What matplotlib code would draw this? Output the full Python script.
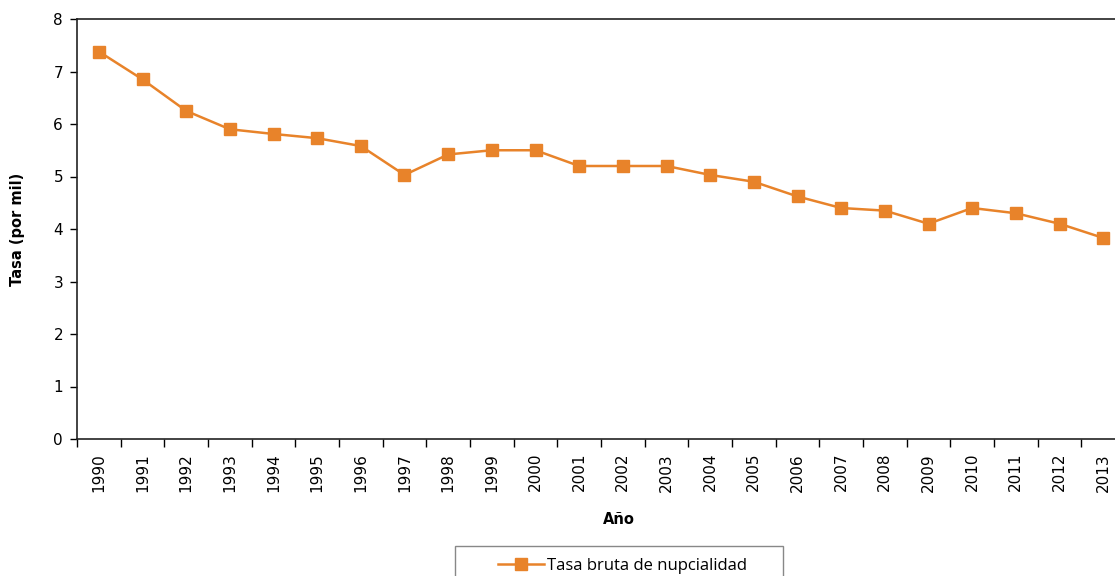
import matplotlib
matplotlib.use("Agg")
import matplotlib.pyplot as plt
from matplotlib.patches import Rectangle
from matplotlib.lines import Line2D
import numpy as np

years = [str(y) for y in range(1990, 2014)]
tasa = [7.38, 6.85, 6.25, 5.90, 5.81, 5.73, 5.58, 5.03, 5.42, 5.50, 5.50, 5.20,
        5.20, 5.20, 5.03, 4.90, 4.62, 4.40, 4.35, 4.10, 4.40, 4.30, 4.10, 3.83]
series_name = "Tasa bruta de nupcialidad"
color = "#E8832A"

W, H = 1115, 576
fig = plt.figure(figsize=(W / 100, H / 100), dpi=100)
ax = fig.add_axes([77 / W, 1 - 439 / H, (1125 - 77) / W, (439 - 19) / H])

x = np.arange(len(years))
ax.plot(x, tasa, color=color, lw=1.8, marker="s", markersize=8.5,
        markerfacecolor=color, markeredgecolor=color)

ax.set_xlim(-0.5, len(years) - 0.5)
ax.set_ylim(0, 8)
ax.set_yticks(range(0, 9))
ax.tick_params(axis="y", direction="out", length=5, width=1, labelsize=11, pad=5)

ax.set_xticks(np.arange(-0.5, len(years), 1.0))
ax.set_xticklabels([])
ax.tick_params(axis="x", which="major", direction="out", length=6, width=1)
ax.set_xticks(x, minor=True)
ax.set_xticklabels(years, minor=True, rotation=90)
ax.tick_params(axis="x", which="minor", length=0, labelsize=11, pad=10)

for s in ax.spines.values():
    s.set_color("#222222")
    s.set_linewidth(1.2)

ax.set_ylabel("Tasa (por mil)", fontsize=10.5, fontweight="bold")
ax.yaxis.set_label_coords(-(77 - 18) / (1125 - 77), 0.5)
ax.yaxis.label.set_verticalalignment("center")
ax.set_xlabel("Año", fontsize=10.5, fontweight="bold")
ax.xaxis.set_label_coords((619 - 77) / (1125 - 77), -(520 - 439) / (439 - 19))
ax.xaxis.label.set_verticalalignment("center")

# legend box
rect = Rectangle((455 / W, 1 - 620 / H), (783 - 455) / W, (620 - 546) / H,
                 transform=fig.transFigure, facecolor="white", edgecolor="#888888",
                 lw=1.0, clip_on=False)
fig.patches.append(rect)
handle = Line2D([], [], color=color, lw=1.8, marker="s", markersize=8.5)
leg = fig.legend([handle], [series_name], loc="center left",
                 bbox_to_anchor=(483 / W, 1 - 566 / H), frameon=False,
                 handlelength=2.75, handletextpad=0.2,
                 prop={"family": "Open Sans", "size": 12})

fig.savefig("out.png", dpi=100)
